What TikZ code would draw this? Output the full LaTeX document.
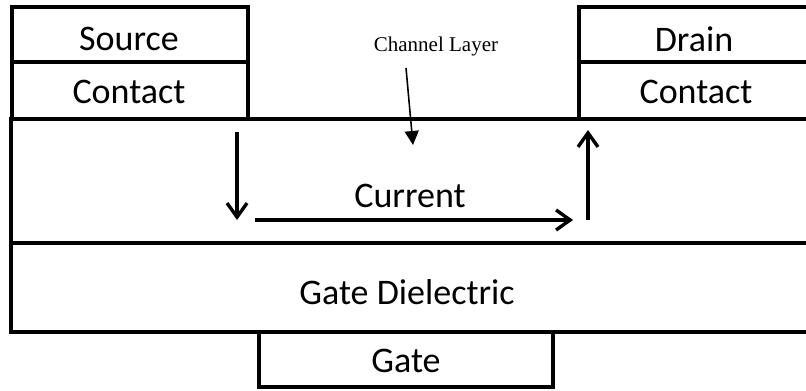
\documentclass[tikz,border=0pt]{standalone}
\usepackage{fontspec}
\setmainfont{Liberation Serif}
\newfontfamily\partfont{Carlito}
\usetikzlibrary{arrows.meta, positioning}

\tikzset{
  layer/.style={line width=2pt},
  part/.style={line width=1.6pt},
  flow/.style={line width=1.7pt, -{Straight Barb[length=7pt,width=10pt,line width=1.7pt]}},
  pointer/.style={line width=0.8pt, -{Triangle[length=7pt,width=7pt]}},
  partlabel/.style={font=\partfont\fontsize{18}{21}\selectfont, inner sep=0pt},
}

\begin{document}
\begin{tikzpicture}[x=0.5pt, y=-0.5pt]
\useasboundingbox (0,0) rectangle (806,390);

% Source contact
\draw[part] (12,119) -- (12,7) -- (248,7) -- (248,119);
\draw[part] (12,62) -- (248,62);
\node[partlabel] (source) at (129,39) {Source};
\node[partlabel] (scontact) at (129,92) {Contact};

% Drain contact
\draw[part] (806,7) -- (579,7) -- (579,119);
\draw[part] (579,62) -- (806,62);
\node[partlabel] (drain) at (694,39) {Drain};
\node[partlabel] (dcontact) at (696,92) {Contact};

% Channel layer and gate dielectric
\draw[layer] (806,119) -- (11,119) -- (11,332) -- (806,332);
\draw[layer] (11,243) -- (806,243);
\node[partlabel] (current) at (410,196) {Current};
\node[partlabel] (dielectric) at (407,292) {Gate Dielectric};

% Gate
\draw[part] (259,332) -- (259,387) -- (553,387) -- (553,332);
\node[partlabel] (gate) at (406,361) {Gate};

% Channel layer label
\node[font=\fontsize{10.5}{12}\selectfont, inner sep=0pt] (chlabel) at (436,46) {Channel Layer};
\coordinate (chtip) at (413,145);
\draw[pointer] ([shift={(-30,12)}]chlabel.south) -- (chtip);

% Current path
\coordinate (sin) at (237,132);
\coordinate (sout) at (237,220);
\coordinate (cin) at (255,220);
\coordinate (cout) at (573,220);
\coordinate (din) at (588,220);
\coordinate (dout) at (588,130);
\draw[flow] (sin) -- (sout);
\draw[flow] (cin) -- (cout);
\draw[flow] (din) -- (dout);

\end{tikzpicture}
\end{document}
